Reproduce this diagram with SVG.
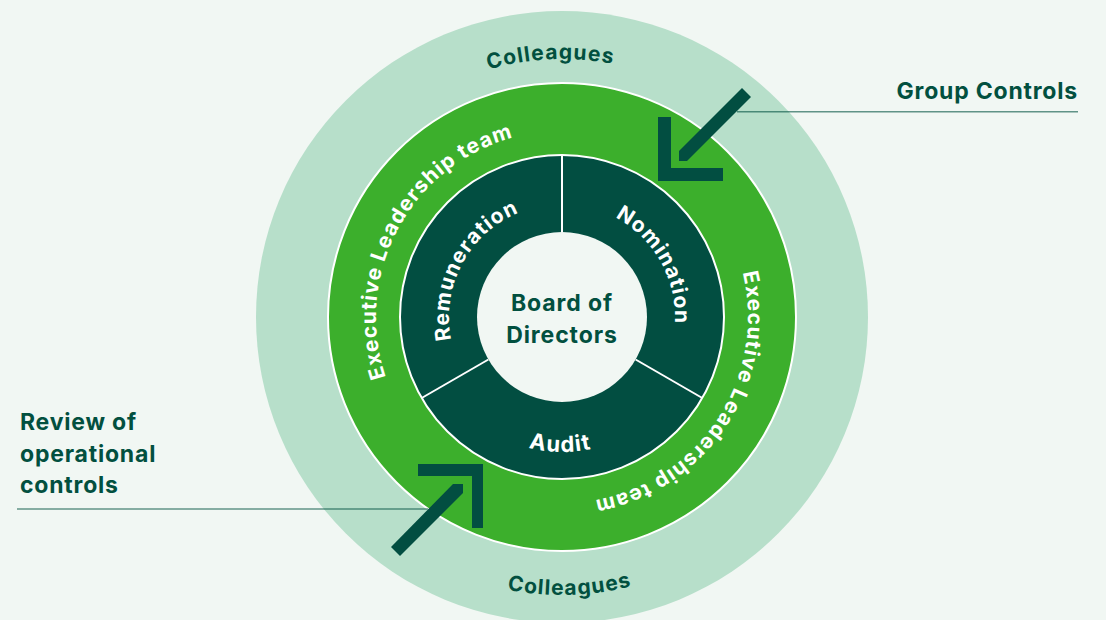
<svg xmlns="http://www.w3.org/2000/svg" xmlns:xlink="http://www.w3.org/1999/xlink" width="1106" height="620" viewBox="0 0 1106 620">
<style>
.t{font-family:Inter,"DejaVu Sans",sans-serif;font-weight:700}
.dk{fill:#02503f}
.wt{fill:#ffffff}
.arrow{fill:#024e41}
.lead{stroke:#00503f;stroke-opacity:0.6;stroke-width:1.5;fill:none}
.div{stroke:#ffffff;stroke-width:2}
</style>
<defs>
<path id="colTop" d="M304,317 A258,258 0 0 1 820,317"/>
<path id="colBot" d="M284,317 A278,278 0 0 0 840,317"/>
<path id="elRing" d="M562,503 A186,186 0 0 1 562,131 A186,186 0 0 1 562,503"/>
<path id="innerRing" d="M562,430 A113,113 0 0 1 562,204 A113,113 0 0 1 562,430"/>
<path id="auditArc" d="M427,317 A135,135 0 0 0 697,317"/>
</defs>
<rect width="1106" height="620" fill="#f1f7f3"/>

<g id="colleagues">
<circle cx="562" cy="317" r="306" fill="#b7dfca"/>
<text class="t dk" font-size="21" letter-spacing="1.1" text-anchor="middle"><textPath xlink:href="#colTop" startOffset="48.6%">Colleagues</textPath></text>
<text class="t dk" font-size="21" letter-spacing="1.1" text-anchor="middle"><textPath xlink:href="#colBot" startOffset="50.9%">Colleagues</textPath></text>
</g>

<g id="executive-leadership">
<circle cx="562" cy="317" r="234" fill="#3caf2c" stroke="#ffffff" stroke-width="2"/>
<text class="t wt" font-size="21" letter-spacing="1.1" text-anchor="middle"><textPath xlink:href="#elRing" startOffset="32.8%">Executive Leadership team</textPath></text>
<text class="t wt" font-size="21" letter-spacing="1.1" text-anchor="middle"><textPath xlink:href="#elRing" startOffset="84.2%">Executive Leadership team</textPath></text>
</g>

<g id="committees">
<circle cx="562" cy="317" r="162" fill="#024e41" stroke="#ffffff" stroke-width="2"/>
<line class="div" x1="562" y1="232" x2="562" y2="155"/>
<line class="div" x1="635.6" y1="359.5" x2="702.3" y2="398"/>
<line class="div" x1="488.4" y1="359.5" x2="421.7" y2="398"/>
</g>
<g id="remuneration">
<text class="t wt" font-size="21" letter-spacing="1.1" text-anchor="middle"><textPath xlink:href="#innerRing" startOffset="32.8%">Remuneration</textPath></text>
</g>
<g id="nomination">
<text class="t wt" font-size="21" letter-spacing="1.1" text-anchor="middle"><textPath xlink:href="#innerRing" startOffset="66.9%">Nomination</textPath></text>
</g>
<g id="audit">
<text class="t wt" font-size="22" letter-spacing="1.2" text-anchor="middle"><textPath xlink:href="#auditArc" startOffset="49.6%">Audit</textPath></text>
</g>

<g id="board">
<circle cx="562" cy="317" r="85" fill="#f1f7f3"/>
<text class="t dk" font-size="23" letter-spacing="0.9" text-anchor="middle" x="562" y="311">Board of</text>
<text class="t dk" font-size="23" letter-spacing="0.9" text-anchor="middle" x="562" y="343">Directors</text>
</g>

<g id="group-controls">
<text class="t dk" font-size="23" letter-spacing="0.8" text-anchor="end" x="1078" y="99">Group Controls</text>
<polygon class="arrow" points="742,88 751,97 687,161 679,161 679,151"/>
<polygon class="arrow" points="658,117 671,117 671,168 723,168 723,181 658,181"/>
</g>

<g id="review-operational-controls">
<text class="t dk" font-size="23" letter-spacing="0.8" x="20" y="430">Review of</text>
<text class="t dk" font-size="23" letter-spacing="0.8" x="20" y="462">operational</text>
<text class="t dk" font-size="23" letter-spacing="0.8" x="20" y="493">controls</text>
<polygon class="arrow" points="453,484 463,484 463,493 400,556 391,547"/>
<polygon class="arrow" points="418,464 483,464 483,528 472,528 472,476 418,476"/>
</g>

<g id="connectors">
<line class="lead" x1="737" y1="111.7" x2="1078" y2="111.7"/>
<line class="lead" x1="17" y1="509" x2="428" y2="509"/>
</g>
</svg>
